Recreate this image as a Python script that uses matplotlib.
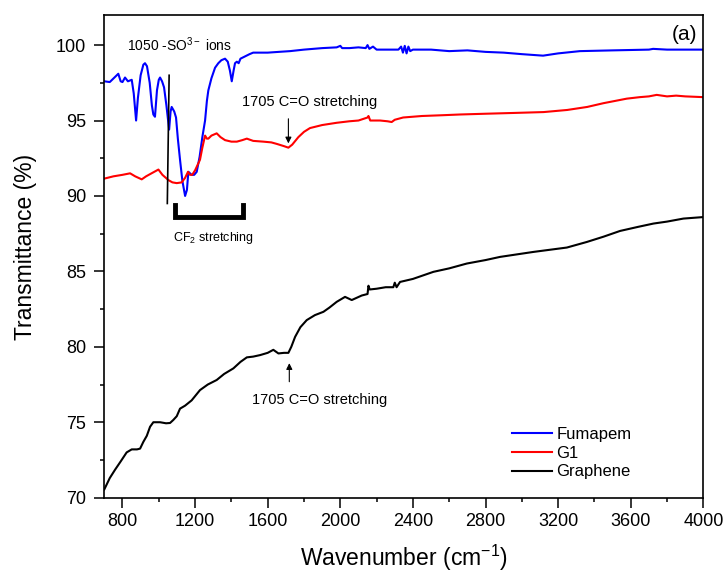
import matplotlib
matplotlib.use('Agg')
import matplotlib.pyplot as plt
from matplotlib.ticker import MultipleLocator

plt.rcParams['font.family'] = ['Liberation Sans', 'DejaVu Sans']
plt.rcParams['mathtext.fontset'] = 'custom'
plt.rcParams['mathtext.rm'] = 'Liberation Sans'
plt.rcParams['mathtext.it'] = 'Liberation Sans:italic'

# Fumapem (blue)
fum_x = [700, 730, 760, 777, 790, 800, 814, 830, 851, 862, 875, 885, 900, 915, 924, 935,
         950, 962, 970, 979, 990, 1000, 1007, 1018, 1029, 1042, 1057, 1065, 1071, 1085,
         1095, 1105, 1117, 1130, 1145, 1155, 1163, 1172, 1181, 1195, 1209, 1225, 1240,
         1255, 1265, 1273, 1290, 1310, 1328, 1345, 1365, 1380, 1392, 1402, 1412, 1420,
         1430, 1440, 1450, 1475, 1500, 1520, 1600, 1660, 1723, 1800, 1900, 1980, 2000,
         2010, 2050, 2100, 2140, 2150, 2160, 2180, 2200, 2274, 2320, 2335, 2345, 2355,
         2365, 2375, 2385, 2400, 2500, 2600, 2700, 2800, 2900, 3000, 3117, 3200, 3320,
         3500, 3700, 3723, 3800, 3900, 4000]
fum_y = [97.6, 97.55, 97.9, 98.1, 97.6, 97.55, 97.85, 97.6, 97.7, 96.8, 95.0, 96.5, 98.0,
         98.7, 98.8, 98.6, 97.5, 96.0, 95.4, 95.25, 97.0, 97.7, 97.85, 97.6, 97.2, 96.0,
         94.4, 95.6, 95.9, 95.6, 95.2, 93.8, 92.4, 91.0, 90.0, 90.4, 91.6, 91.5, 91.4,
         91.4, 91.6, 92.6, 93.9, 95.0, 96.3, 97.0, 97.8, 98.5, 98.8, 99.0, 99.1, 98.9,
         98.3, 97.6, 98.3, 98.8, 98.9, 98.8, 99.1, 99.25, 99.4, 99.5, 99.5, 99.55, 99.6,
         99.7, 99.8, 99.85, 99.95, 99.8, 99.8, 99.85, 99.8, 100.0, 99.75, 99.9, 99.7,
         99.7, 99.7, 99.9, 99.5, 99.95, 99.45, 99.9, 99.6, 99.7, 99.7, 99.6, 99.65, 99.55,
         99.5, 99.4, 99.3, 99.45, 99.6, 99.65, 99.7, 99.75, 99.7, 99.7, 99.7]

# G1 (red)
g1_x = [700, 750, 800, 842, 870, 906, 930, 960, 998, 1020, 1053, 1075, 1099, 1126, 1145,
        1161, 1172, 1184, 1200, 1227, 1240, 1255, 1265, 1273, 1290, 1319, 1340, 1365,
        1400, 1430, 1460, 1485, 1520, 1576, 1620, 1650, 1690, 1714, 1735, 1769, 1800,
        1833, 1900, 1980, 2050, 2100, 2150, 2155, 2165, 2219, 2260, 2283, 2300, 2346,
        2450, 2560, 2660, 2800, 2950, 3120, 3250, 3360, 3450, 3578, 3650, 3700, 3743,
        3800, 3850, 3900, 4000]
g1_y = [91.15, 91.3, 91.4, 91.5, 91.3, 91.1, 91.3, 91.5, 91.75, 91.4, 91.05, 90.9, 90.85,
        90.9, 91.2, 91.6, 91.4, 91.4, 91.7, 92.4, 93.2, 94.0, 93.8, 93.8, 94.0, 94.15,
        93.9, 93.7, 93.6, 93.6, 93.7, 93.8, 93.65, 93.6, 93.55, 93.45, 93.3, 93.2, 93.4,
        93.9, 94.25, 94.5, 94.7, 94.85, 94.95, 95.0, 95.2, 95.3, 95.0, 95.0, 94.95, 94.9,
        95.05, 95.2, 95.3, 95.35, 95.4, 95.45, 95.5, 95.56, 95.7, 95.9, 96.15, 96.45,
        96.55, 96.6, 96.7, 96.6, 96.65, 96.6, 96.55]

# Graphene (black)
gr_x = [700, 730, 759, 790, 823, 851, 880, 897, 915, 934, 952, 970, 1007, 1040, 1062,
        1080, 1099, 1117, 1145, 1181, 1227, 1270, 1319, 1360, 1411, 1450, 1485, 1520,
        1558, 1600, 1631, 1659, 1690, 1714, 1730, 1751, 1780, 1815, 1860, 1907, 1940,
        1980, 2026, 2063, 2118, 2150, 2155, 2162, 2200, 2250, 2292, 2300, 2310, 2329,
        2400, 2513, 2600, 2697, 2800, 2880, 3064, 3248, 3358, 3450, 3541, 3640, 3725,
        3800, 3890, 4000]
gr_y = [70.55, 71.3, 71.85, 72.4, 73.0, 73.2, 73.2, 73.25, 73.7, 74.1, 74.7, 75.0, 75.0,
        74.93, 74.95, 75.15, 75.4, 75.9, 76.1, 76.45, 77.13, 77.5, 77.8, 78.2, 78.57,
        79.0, 79.3, 79.35, 79.45, 79.6, 79.8, 79.56, 79.6, 79.6, 80.0, 80.66, 81.3, 81.77,
        82.1, 82.32, 82.6, 82.98, 83.31, 83.1, 83.4, 83.5, 84.05, 83.8, 83.85, 83.95,
        83.95, 84.25, 83.95, 84.3, 84.5, 84.97, 85.2, 85.52, 85.75, 85.96, 86.29, 86.58,
        86.95, 87.3, 87.68, 87.95, 88.17, 88.3, 88.5, 88.6]

fig = plt.figure(figsize=(7.27, 5.74), dpi=100)
ax = fig.add_axes([0.1435, 0.133, 0.824, 0.841])

ax.plot(fum_x, fum_y, color='#0000ff', lw=1.5, label='Fumapem')
ax.plot(g1_x, g1_y, color='#ff0000', lw=1.5, label='G1')
ax.plot(gr_x, gr_y, color='black', lw=1.5, label='Graphene')

ax.set_xlim(700, 4000)
ax.set_ylim(70, 102)
ax.xaxis.set_major_locator(MultipleLocator(400))
ax.xaxis.set_minor_locator(MultipleLocator(200))
ax.yaxis.set_major_locator(MultipleLocator(5))
ax.yaxis.set_minor_locator(MultipleLocator(2.5))
ax.tick_params(which='major', direction='out', length=7, width=1.1, labelsize=13, pad=4)
ax.tick_params(axis='y', which='major', pad=6)
ax.tick_params(which='minor', direction='out', length=3, width=1.1)
for s in ax.spines.values():
    s.set_linewidth(1.2)

ax.set_xlabel('Wavenumber (cm$^{-1}$)', fontsize=16.5, labelpad=9)
ax.set_ylabel('Transmittance (%)', fontsize=16.5)
ax.yaxis.set_label_coords(-0.113, 0.52)

# annotations
ax.text(823, 100.0, r'1050 -SO$^{3-}$ ions', fontsize=10, va='center', ha='left')
ax.plot([1057, 1047], [98.0, 89.5], color='black', lw=1.2)
ax.text(1457, 96.2, '1705 C=O stretching', fontsize=10.5, va='center', ha='left')
ax.annotate('', xy=(1714, 93.3), xytext=(1714, 95.3),
            arrowprops=dict(arrowstyle='-|>', color='black', lw=0.8, mutation_scale=9))
ax.plot([1090, 1090, 1466, 1466], [89.4, 88.6, 88.6, 89.4], color='black', lw=3.5,
        solid_joinstyle='miter')
ax.text(1080, 87.24, r'CF$_{2}$ stretching', fontsize=9, va='center', ha='left')
ax.annotate('', xy=(1719, 79.1), xytext=(1719, 77.5),
            arrowprops=dict(arrowstyle='-|>', color='black', lw=0.8, mutation_scale=9))
ax.text(1512, 76.47, '1705 C=O stretching', fontsize=10.5, va='center', ha='left')
ax.text(0.9895, 0.979, '(a)', transform=ax.transAxes, fontsize=15, ha='right', va='top')

ax.legend(loc='upper left', bbox_to_anchor=(0.681, 0.147), frameon=False, fontsize=12,
          handlelength=2.4, handletextpad=0.25, labelspacing=0.23,
          borderpad=0, borderaxespad=0)

fig.savefig('out.png', dpi=100)
